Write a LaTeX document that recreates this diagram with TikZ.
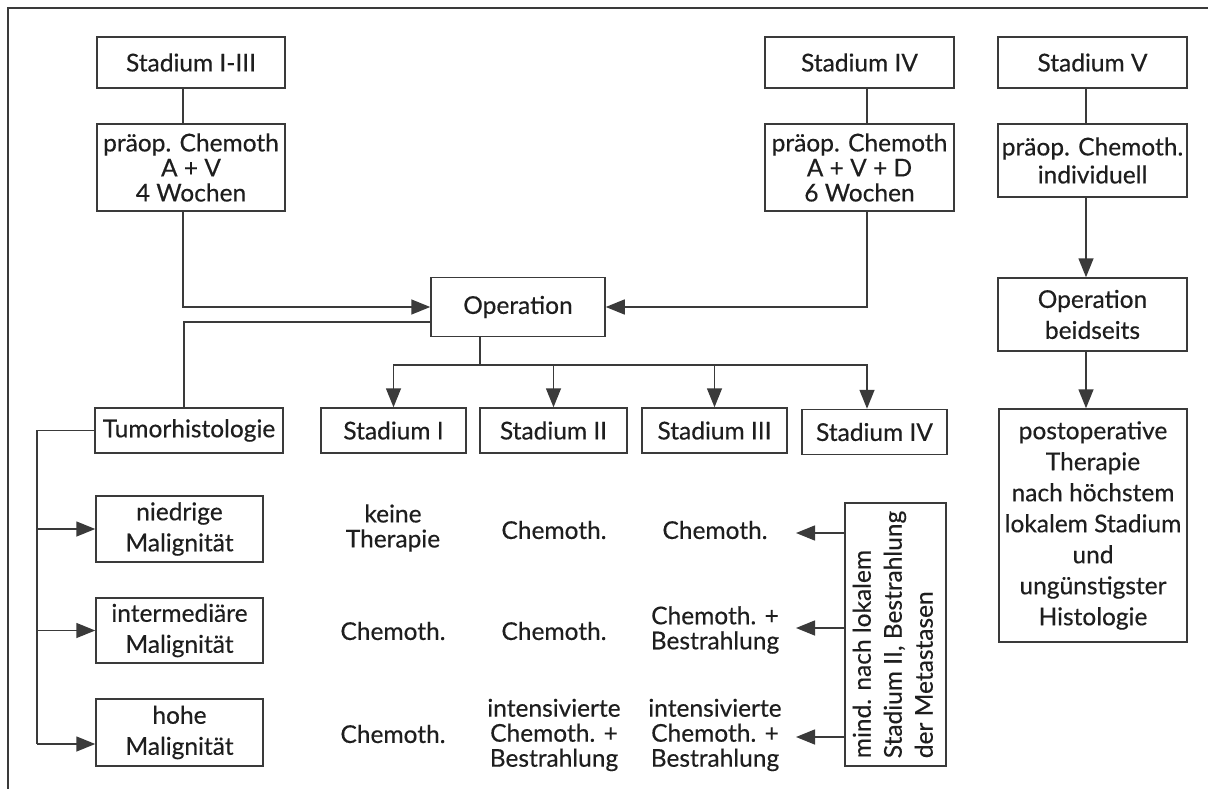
\documentclass[tikz,border=0pt]{standalone}
\usepackage{fontspec}
\setmainfont{Lato}[FakeBold=0.35]
\usetikzlibrary{arrows.meta}
\definecolor{ln}{HTML}{3A3A3A}
\definecolor{tx}{HTML}{1E1E1E}
\begin{document}
\begin{tikzpicture}[x=1pt,y=-1pt,
  box/.style={draw=ln, line width=1.5pt, text=tx, inner sep=0pt, align=center, font=\fontsize{24.5}{31}\selectfont},
  tight/.style={font=\fontsize{24.5}{25}\selectfont},
  lbl/.style={text=tx, align=center, inner sep=0pt, font=\fontsize{24.5}{25}\selectfont},
  con/.style={draw=ln, line width=1.5pt},
  arr/.style={con, -{Triangle[length=19pt,width=15pt]}}]
\useasboundingbox (0,0) rectangle (1208,789);
\fill[white] (0,0) rectangle (1208,789);
% frame
\coordinate (fa) at (8,789);
\coordinate (fb) at (8,8);
\coordinate (fc) at (1208,8);
\draw[con, line width=1.3pt] (fa) -- (fb) -- (fc);
% top row
\node[box, minimum width=188pt, minimum height=51pt] (s13) at (191,62.5) {Stadium I-III};
\node[box, tight, minimum width=188pt, minimum height=87pt] (p13) at (191,167.5) {präop. Chemoth\\A + V\\4 Wochen};
\node[box, minimum width=189pt, minimum height=51pt] (s4) at (859.5,62.5) {Stadium IV};
\node[box, tight, minimum width=189pt, minimum height=87pt] (p4) at (859.5,167.5) {präop. Chemoth\\A + V + D\\6 Wochen};
\node[box, minimum width=189pt, minimum height=51pt] (s5) at (1092.5,62.5) {Stadium V};
\node[box, font=\fontsize{24.5}{28}\selectfont, minimum width=189pt, minimum height=73pt] (p5) at (1092.5,160.5) {präop. Chemoth.\\individuell};
\node[box, minimum width=174pt, minimum height=59pt] (op) at (518,307) {Operation};
\node[box, minimum width=189pt, minimum height=73pt] (opb) at (1092.5,314.5) {Operation\\beidseits};
\node[box, minimum width=188pt, minimum height=233pt] (post) at (1093,525.5) {postoperative\\Therapie\\nach höchstem\\lokalem Stadium\\und\\ungünstigster\\Histologie};
% second row
\node[box, minimum width=188pt, minimum height=45pt] (tumor) at (189,430.5) {Tumorhistologie};
\node[box, minimum width=145pt, minimum height=45pt] (st1) at (393.5,430.5) {Stadium I};
\node[box, minimum width=147pt, minimum height=45pt] (st2) at (553.5,430.5) {Stadium II};
\node[box, minimum width=145pt, minimum height=45pt] (st3) at (714.5,430.5) {Stadium III};
\node[box, minimum width=145pt, minimum height=45pt] (st4) at (874.5,432) {Stadium IV};
% malignity boxes
\node[box, minimum width=167pt, minimum height=66pt] (low) at (179.5,529) {niedrige\\Malignität};
\node[box, minimum width=167pt, minimum height=65pt] (mid) at (179.5,630.5) {intermediäre\\Malignität};
\node[box, minimum width=167pt, minimum height=67pt] (high) at (179.5,732.5) {hohe\\Malignität};
\node[box, minimum width=101pt, minimum height=263pt] (meta) at (895.5,634.5) {\rotatebox{90}{\begin{tabular}{@{}l@{}}mind. nach lokalem\\Stadium II, Bestrahlung\\der Metastasen\end{tabular}}};
% table texts
\node[lbl] (t11) at (393,528) {keine\\Therapie};
\node[lbl] (t12) at (554,530) {Chemoth.};
\node[lbl] (t13) at (715,530) {Chemoth.};
\node[lbl] (t21) at (393,631) {Chemoth.};
\node[lbl] (t22) at (554,631) {Chemoth.};
\node[lbl] (t23) at (715,630) {Chemoth. +\\Bestrahlung};
\node[lbl] (t31) at (393,734) {Chemoth.};
\node[lbl] (t32) at (554,735) {intensivierte\\Chemoth. +\\Bestrahlung};
\node[lbl] (t33) at (715,735) {intensivierte\\Chemoth. +\\Bestrahlung};
% connectors
\draw[con] ([xshift=-8pt]s13.south) -- ([xshift=-8pt]p13.north);
\draw[arr] ([xshift=-8pt]p13.south) |- (op.west);
\draw[con] ([yshift=-15pt]op.west) -| ([xshift=-5pt]tumor.north);
\draw[con] ([xshift=7.5pt]s4.south) -- ([xshift=7.5pt]p4.north);
\draw[arr] ([xshift=7.5pt]p4.south) |- (op.east);
\draw[con] ([xshift=-6.5pt]s5.south) -- ([xshift=-6.5pt]p5.north);
\draw[arr] ([xshift=-6.5pt]p5.south) -- ([xshift=-6.5pt]opb.north);
\draw[arr] ([xshift=-6.5pt]opb.south) -- ([xshift=-7pt]post.north);
\coordinate (bus) at (480,365);
\draw[con] (op.south -| bus) -- (bus);
\draw[arr] (bus) -| (st1.north);
\draw[arr] (bus) -| (st2.north);
\draw[arr] (bus) -| (st3.north);
\draw[arr] (bus) -| ([xshift=-7.5pt]st4.north);
\coordinate (lt) at (37,430.5);
\coordinate (lbot) at (37,744);
\draw[con] (tumor.west) -- (lt) -- (lbot);
\draw[arr] (lt |- low.west) -- (low.west);
\draw[arr] (lt |- mid.west) -- (mid.west);
\draw[arr] (lbot) -- (lbot -| high.west);
\coordinate (ma) at (796,533);
\coordinate (mb) at (796,628);
\coordinate (mc) at (796,737);
\draw[arr] (meta.west |- ma) -- (ma);
\draw[arr] (meta.west |- mb) -- (mb);
\draw[arr] (meta.west |- mc) -- (mc);
\end{tikzpicture}
\end{document}
